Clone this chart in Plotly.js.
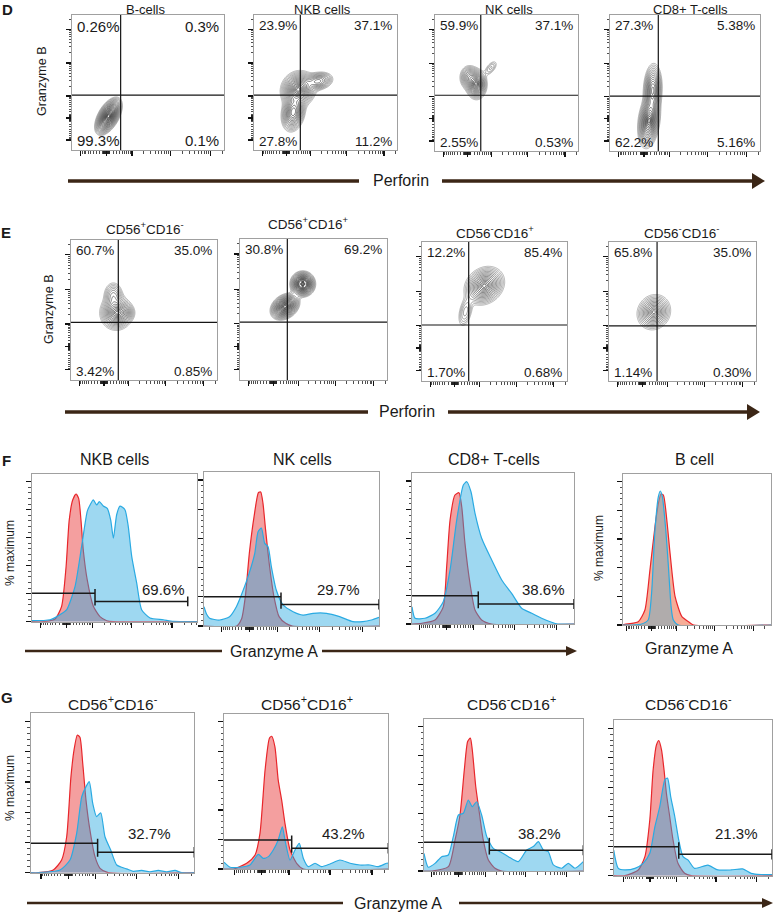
<!DOCTYPE html>
<html><head><meta charset="utf-8">
<script src="https://cdn.plot.ly/plotly-3.0.1.min.js"></script>
<style>html,body{margin:0;padding:0;background:#fff}#chart{width:774px;height:912px}</style>
</head><body><div id="chart"></div>
<script>
// ================= DATA =================
const titlesD = ['B-cells', 'NKB cells', 'NK cells', 'CD8+ T-cells'];
const titlesE = ['CD56<sup>+</sup>CD16<sup>-</sup>', 'CD56<sup>+</sup>CD16<sup>+</sup>', 'CD56<sup>-</sup>CD16<sup>+</sup>', 'CD56<sup>-</sup>CD16<sup>-</sup>'];
const titlesF = ['NKB cells', 'NK cells', 'CD8+ T-cells', 'B cell'];
const titlesG = ['CD56<sup>+</sup>CD16<sup>-</sup>', 'CD56<sup>+</sup>CD16<sup>+</sup>', 'CD56<sup>-</sup>CD16<sup>+</sup>', 'CD56<sup>-</sup>CD16<sup>-</sup>'];

// quadrant percentages [upper-left, upper-right, lower-left, lower-right]
const quadD = [['0.26%','0.3%','99.3%','0.1%'], ['23.9%','37.1%','27.8%','11.2%'], ['59.9%','37.1%','2.55%','0.53%'], ['27.3%','5.38%','62.2%','5.16%']];
const quadE = [['60.7%','35.0%','3.42%','0.85%'], ['30.8%','69.2%','',''], ['12.2%','85.4%','1.70%','0.68%'], ['65.8%','35.0%','1.14%','0.30%']];

// quadrant gates [perforin, granzyme B] in display units (0-100)
const gatesD = [[32, 40.7], [32.4, 40.7], [32, 41], [32.2, 40.4]];
const gatesE = [[32.4, 41.2], [32.2, 41], [32.2, 40.3], [32.7, 39.6]];

// cell populations: [perforin centre, granzyme B centre, spread x, spread y, tilt, weight]
const popBcellsD = [[24, 25, 3.6, 5.6, 0.55, 1]];
const popNKBD    = [[31, 45, 5, 5.5, 0.1, 1], [45, 51, 4.5, 3, 0.2, 0.5], [27.5, 28, 3.5, 6, 0.2, 0.8]];
const popNKD     = [[29, 49, 3, 4.5, 0, 1], [24, 54, 3, 4, 0, 0.45], [39, 61, 2.5, 3, 0.6, 0.13]];
const popCD8D    = [[26, 22, 3, 8, 0.25, 1], [28.5, 45, 2.6, 8, 0.1, 0.75]];
const popCD56pCD16nE = [[31, 48, 4.5, 5, 0, 1], [29, 60, 3, 4.5, 0, 0.35], [37, 48, 3, 3, 0, 0.3]];
const popCD56pCD16pE = [[30.6, 52, 4, 3.8, 0.3, 1], [42.7, 68.1, 3.4, 3.6, 0, 1.15], [42.7, 68.1, 1, 1, 0, -0.6]];
const popCD56nCD16pE = [[43, 68.5, 5.5, 5.5, 0.2, 1], [30, 50, 2.5, 5.5, 0.4, 0.2]];
const popCD56nCD16nE = [[30.5, 49.5, 4.5, 5, 0.1, 1]];

// histograms [granzyme A display units, % maximum]
const nkbRed  = [[0,0],[7,0],[14.1,1.9],[18.1,11],[20.8,39.3],[22.7,72.6],[24.8,86.9],[26.8,91.2],[28.4,88.1],[29.8,72.6],[31.2,51.2],[33.6,29.8],[37.3,11],[41.3,3.6],[45.4,0.7],[49.4,0],[100,0]];
const nkbBlue = [[0,0.7],[11.1,1.4],[17.1,5],[21.2,8.6],[26.2,25.1],[30.2,53.8],[33.6,78.8],[35.3,83.4],[37.3,87],[39.3,83.4],[40.9,85.7],[43.3,82.6],[45.7,81],[47.8,72.6],[49.4,59.6],[51.4,76.4],[53.4,82.6],[56.4,80],[58.4,68.1],[60.5,46.7],[63.5,27.7],[66.5,8.6],[71.6,2.6],[79.6,1.4],[85.7,0.2],[100,0]];
const nkRed   = [[0,0],[18.7,0],[21.5,5],[23.6,20],[25.9,49.8],[28.6,74.9],[31.1,91.3],[32.4,91.8],[33.7,84],[35.2,65.8],[37.5,40.6],[40,20],[42.9,6.4],[46.7,1.8],[50.5,0],[100,0]];
const nkBlue  = [[0,13.2],[1.5,8],[3.2,5.3],[8.9,4.1],[14.6,6.4],[18.5,13.2],[23.2,27],[26.1,37.2],[29,49.8],[30.9,64.6],[32.8,67],[34.7,56.6],[36.6,54.3],[38.5,40.6],[41.3,24.7],[45.2,14.4],[50.9,9.8],[56.6,7.5],[62.3,8.7],[70,8.7],[77.5,6.4],[85.1,3],[90.8,3],[95.6,4.1],[100,6]];
const cd8Red  = [[0,0],[6,0.5],[14.2,2.8],[19.3,12],[21.4,40],[23.5,72.7],[26.5,90.2],[29,91.8],[30.7,82],[32.7,56.4],[35.8,28.4],[38.9,9.8],[43,2.8],[49.2,0],[100,0]];
const cd8Blue = [[0,12],[1.9,4],[8,4],[14.2,7.5],[19.3,15.6],[23.5,37.8],[27.6,72.7],[31.7,97.2],[33.8,99.5],[36.4,92.5],[38.9,77.4],[43,60],[49.2,44.8],[55.4,30.8],[61.5,21.4],[67.7,11],[73.9,7.5],[80,4],[86.2,1.2],[90,0],[100,0]];
const bRed    = [[0,0],[1.2,0.5],[10.3,2.3],[14.8,10.5],[18.2,38.4],[21.6,68.6],[23.9,84.9],[25.7,91.4],[27.3,90.7],[29.6,73.3],[31.8,50],[35.2,19.8],[39.8,5.8],[44.3,2.3],[47.7,0],[100,0]];
const bBlue   = [[0,0],[12,0.5],[17,3.5],[19.3,22],[21.6,66.3],[23.9,89.5],[25.2,93.5],[26.6,89.5],[28.9,66.3],[30.7,40.7],[32.5,12.8],[34,3.5],[37.4,0],[100,0]];
const g1Red   = [[0,0],[4.7,0],[13.8,1.8],[18.9,8.4],[22,23.8],[24.6,63.6],[26.5,81.3],[28.5,91.2],[30.1,89.7],[31.8,72.5],[33.8,48.1],[36.2,28.3],[39.3,10.6],[42.4,2.9],[47.4,0],[100,0]];
const g1Blue  = [[0,0],[4.7,0],[17.9,1.8],[24,8.4],[28.1,26.1],[31.2,50.3],[33.8,57],[35.8,60.3],[37.9,46],[40.3,37.1],[42.8,39.7],[45.4,23.8],[48.9,15],[52.6,5.1],[58.7,2.5],[62.7,0.9],[67.8,1.5],[72.9,0.5],[78,1.5],[83.1,0.5],[88.2,1.5],[92.3,0],[100,0]];
const g2Red   = [[0,0],[5.7,0],[13.8,3.9],[18.9,9.5],[21.9,24.2],[25,67.2],[27.6,88.6],[29,90.1],[31,82.9],[33,60.3],[35.1,46.8],[37.1,31],[40.2,12.9],[44.2,3.9],[48.3,0],[100,0]];
const g2Blue  = [[0,4.6],[3.7,1.2],[9.7,1.2],[15.8,2.7],[20.9,9.9],[23.9,7.2],[27,8.4],[30,12.9],[33,19.7],[35.5,28.7],[37.1,19.7],[40.2,6.1],[43.2,12.9],[45.8,17.4],[48.3,7.2],[51.3,1.6],[55.4,3.9],[59.4,1.6],[64.5,3.4],[70.6,6.1],[76.7,3.9],[82.8,2.7],[88.8,2.7],[93.9,1.6],[99,3.9],[100,4]];
const g3Red   = [[0,0],[4.8,0],[15.3,3],[19.5,21.5],[22.6,38.8],[25.3,70],[27.4,89.8],[29.1,92.1],[30.3,84],[32.5,58.4],[34.5,42.3],[37.2,21.5],[40.4,7.6],[44.6,1.9],[48.8,0],[100,0]];
const g3Blue  = [[0,12.2],[2.7,2.6],[6.9,5.3],[11.1,9.9],[15.3,11.1],[18.4,23.8],[21.6,38.8],[24.7,40],[27.8,49.2],[30.3,44.6],[33.1,48],[36.2,38.8],[39.4,23.8],[43.5,15.7],[47.7,13.4],[53,9.9],[59.2,6.5],[64.5,14.6],[68.6,16.9],[71.8,20.3],[74.9,14.6],[78,13.4],[81.2,4.2],[86.4,1.9],[90.6,5.3],[94.8,1.9],[100,6.5]];
const g4Red   = [[0,0],[7.1,0],[15.5,3.9],[19.7,12.9],[22.8,37.8],[24.9,71.7],[27,88.7],[28.5,91.6],[30.2,85.3],[31.8,71.7],[33.3,55.9],[35.4,40],[37.5,24.2],[40.6,8.4],[44.8,1.6],[49,0],[100,0]];
const g4Blue  = [[0,17.4],[2.9,5],[7.1,3.9],[13.4,5],[18.6,8.4],[22.8,15.2],[26,33.2],[29.1,46.8],[32.3,65.1],[34,66.2],[36,53.7],[38.6,40],[41.1,24.2],[43.8,12.9],[46.9,10.7],[51.1,5],[59.5,7.2],[65.8,3.9],[74.2,3.9],[81.5,4.6],[86.8,1.6],[93.1,0.8],[99.4,0.8],[100,0.8]];

// histogram gates [boundary, negative-gate level, positive-gate level, positive-gate end]
const gatesF = [[38.3, 20.4, 14.5, 94.4], [44, 20, 14.8, 100], [40.9, 19.8, 14, 100], null];
const gatesG = [[40.9, 19.5, 13.5, 100], [41.2, 19.7, 14.1, 100], [41, 20, 14.4, 100], [41.1, 19.7, 14.5, 100]];
const pctF = ['69.6%', '29.7%', '38.6%', ''];
const pctG = ['32.7%', '43.2%', '38.2%', '21.3%'];
const pctFAt = [[79.6, 22.7], [76.8, 24.7], [81, 23.8], null];
const pctGAt = [[72.9, 26], [72.6, 24.2], [72.8, 26], [77.3, 28.3]];

// ================= LAYOUT CONSTANTS =================
const W = 774, H = 912;
const FONT = 'Liberation Sans, Arial, Helvetica, sans-serif';
const INK = '#1a1a1a', BROWN = '#3b2616';
const boxD = [[72,224,15,150],[254,397,15,150],[435,578,15,151],[610,760,15,151]];
const boxE = [[71,217,240,380],[240,387,239,380],[422,567,242,381],[609,756,242,381]];
const boxF = [[31.7,197,621.7,481.7],[204,379,626,480],[412,574,624,481],[623,771,625,481.7]];
const boxG = [[30.7,194.3,872.7,721.7],[224,388.3,869,721.7],[424,583.3,871,726.7],[613.7,772,875.7,728.3]];
const tickXC = [22.6, 26], tickYC = [23.7, 25];
const tickXF = [[21,24.3],[26,24.5],[21.4,25.8],[19.4,26.1]];
const tickXG = [[23,25.6],[23,25.5],[21.5,25.9],[22.9,25.6]];
const HTOP = 105.5;

const px = x => x / W, py = y => 1 - y / H;

function biexTicks(zero, scale) {
  const T = v => zero + scale * Math.asinh(v / 470) / Math.LN10;
  const majV = [-1000, 0, 1000, 10000, 100000];
  const major = majV.map(T).filter(p => p >= 0 && p <= 100);
  const minor = [];
  for (const d of [10, 100, 1000, 10000, 100000]) for (let k = 1; k <= 9; k++) for (const s of [1, -1]) {
    const v = s * k * d; if (majV.includes(v)) continue;
    const p = T(v); if (p >= 0.4 && p <= 99.6) minor.push(p);
  }
  return { major, minor };
}
const histY = { major: [0, 20, 40, 60, 80, 100], minor: [] };
for (let v = 4; v < 100; v += 4) if (v % 20) histY.minor.push(v);

function axisObj(domain, anchor, range, t) {
  return { domain, anchor, range, fixedrange: true, showgrid: false, zeroline: false,
    showline: true, mirror: true, linecolor: '#a0a0a0', linewidth: 1,
    ticks: 'outside', tickmode: 'array', tickvals: t.major, ticklen: 5, tickwidth: 1.2, tickcolor: '#111',
    showticklabels: false,
    minor: { tickmode: 'array', tickvals: t.minor, ticks: 'outside', ticklen: 2.5, tickwidth: 0.8, tickcolor: '#222', showgrid: false } };
}

const traces = [], annotations = [], shapes = [];
const layout = { width: W, height: H, margin: { l: 0, r: 0, t: 0, b: 0 }, showlegend: false,
  paper_bgcolor: '#fff', plot_bgcolor: 'rgba(0,0,0,0)', font: { family: FONT, color: INK } };

function ax(i) { return { x: 'x' + (i > 1 ? i : ''), y: 'y' + (i > 1 ? i : ''), xa: 'xaxis' + (i > 1 ? i : ''), ya: 'yaxis' + (i > 1 ? i : '') }; }

function note(x, y, text, size, extra) {
  annotations.push(Object.assign({ xref: 'paper', yref: 'paper', x: px(x), y: py(y), text, showarrow: false,
    xanchor: 'center', yanchor: 'middle', font: { family: FONT, size, color: INK } }, extra || {}));
}

// ---------- contour panels ----------
// density of the populations, expressed as an equal-spacing "radius" so rings are evenly spaced like FlowJo's
function contourPanel(i, box, pops, gate, quad, rings, labelSize) {
  const a = ax(i);
  layout[a.xa] = axisObj([px(box[0]), px(box[1])], a.y, [0, 100], biexTicks(tickXC[0], tickXC[1]));
  layout[a.ya] = axisObj([py(box[3]), py(box[2])], a.x, [0, 100], biexTicks(tickYC[0], tickYC[1]));
  const g = []; for (let k = 0; k <= 200; k++) g.push(k * 0.5);
  const dens = g.map(y => g.map(x => {
    let s = 0;
    for (const [cx, cy, sx, sy, r, w] of pops) {
      const dx = (x - cx) / sx, dy = (y - cy) / sy;
      s += w * Math.exp(-0.5 * (dx * dx - 2 * r * dx * dy + dy * dy) / (1 - r * r));
    }
    return s;
  }));
  let zmax = 0; dens.forEach(row => row.forEach(v => { if (v > zmax) zmax = v; }));
  const z = dens.map(row => row.map(v => Math.min(4, Math.sqrt(2 * Math.log(zmax / Math.max(v, 1e-12))))));
  const start = 0.22, end = 2.55;
  traces.push({ type: 'contour', x: g, y: g, z, xaxis: a.x, yaxis: a.y, showscale: false,
    autocontour: false,
    contours: { coloring: 'lines', showlabels: false, start, end, size: (end - start) / (rings - 1) },
    line: { width: 0.65, smoothing: 1 }, zmin: start, zmax: end,
    colorscale: [[0, '#151515'], [0.55, '#444'], [1, '#8c8c8c']], hoverinfo: 'skip' });
  traces.push({ type: 'scatter', mode: 'lines', xaxis: a.x, yaxis: a.y,
    x: [gate[0], gate[0], null, 0, 100], y: [0, 100, null, gate[1], gate[1]],
    line: { color: '#151515', width: 1.2 }, hoverinfo: 'skip' });
  const dx = a.x + ' domain', dy = a.y + ' domain', f = { family: FONT, size: labelSize, color: INK };
  const pos = [[0, 1, 'left', 'top'], [1, 1, 'right', 'top'], [0, 0, 'left', 'bottom'], [1, 0, 'right', 'bottom']];
  quad.forEach((t, k) => { if (!t) return;
    const [x, y, xa, ya] = pos[k];
    annotations.push({ xref: dx, yref: dy, x, y, xanchor: xa, yanchor: ya, text: t, showarrow: false, font: f,
      xshift: x ? -3 : 3, yshift: -1 });
  });
}

// ---------- histogram panels ----------
function histPanel(i, box, tk, red, blue, gate, pct, pctAt, bcell) {
  const a = ax(i);
  const top = box[2] - (HTOP / 100) * (box[2] - box[3]);
  layout[a.xa] = axisObj([px(box[0]), px(box[1])], a.y, [0, 100], biexTicks(tk[0], tk[1]));
  layout[a.ya] = axisObj([py(box[2]), py(top)], a.x, [0, HTOP], histY);
  const redFill = bcell ? '#f6ad97' : 'rgba(232,45,45,0.46)';
  const blueFill = bcell ? 'rgba(118,172,190,0.55)' : 'rgba(41,169,224,0.45)';
  const line = (c) => ({ color: c, width: 1.2, shape: 'spline', smoothing: 0.6 });
  traces.push({ type: 'scatter', mode: 'lines', xaxis: a.x, yaxis: a.y, x: red.map(p => p[0]), y: red.map(p => p[1]),
    fill: 'tozeroy', fillcolor: redFill, line: line('#e8262b'), hoverinfo: 'skip' });
  traces.push({ type: 'scatter', mode: 'lines', xaxis: a.x, yaxis: a.y, x: blue.map(p => p[0]), y: blue.map(p => p[1]),
    fill: 'tozeroy', fillcolor: blueFill, line: line('#2aaae2'), hoverinfo: 'skip' });
  if (gate) {
    const [b, ly, ry, re] = gate;
    traces.push({ type: 'scatter', mode: 'lines', xaxis: a.x, yaxis: a.y,
      x: [0, b, null, b, re, null, b, b, null, re, re],
      y: [ly, ly, null, ry, ry, null, ry - 3, ly + 3, null, ry - 3.5, ry + 3.5],
      line: { color: '#1a1a1a', width: 1.5 }, hoverinfo: 'skip' });
    annotations.push({ xref: a.x, yref: a.y, x: pctAt[0], y: pctAt[1], text: pct, showarrow: false,
      xanchor: 'center', yanchor: 'middle', font: { family: FONT, size: 15, color: INK } });
  }
}

// ---------- build ----------
const popsD = [popBcellsD, popNKBD, popNKD, popCD8D];
const popsE = [popCD56pCD16nE, popCD56pCD16pE, popCD56nCD16pE, popCD56nCD16nE];
const ringsD = [22, 17, 16, 17], ringsE = [15, 20, 15, 13];
for (let k = 0; k < 4; k++) contourPanel(1 + k, boxD[k], popsD[k], gatesD[k], quadD[k], ringsD[k], k === 0 ? 15 : 13.5);
for (let k = 0; k < 4; k++) contourPanel(5 + k, boxE[k], popsE[k], gatesE[k], quadE[k], ringsE[k], 13.5);
const histsF = [[nkbRed, nkbBlue], [nkRed, nkBlue], [cd8Red, cd8Blue], [bRed, bBlue]];
const histsG = [[g1Red, g1Blue], [g2Red, g2Blue], [g3Red, g3Blue], [g4Red, g4Blue]];
for (let k = 0; k < 4; k++) histPanel(9 + k, boxF[k], tickXF[k], histsF[k][0], histsF[k][1], gatesF[k], pctF[k], pctFAt[k], k === 3);
for (let k = 0; k < 4; k++) histPanel(13 + k, boxG[k], tickXG[k], histsG[k][0], histsG[k][1], gatesG[k], pctG[k], pctGAt[k], false);

// titles
[[145.8, 0], [322.5, 0], [509, 0], [690, 0]].forEach((p, k) => note(p[0], p[1], titlesD[k], 13, { yanchor: 'top' }));
[[145, 228.3], [308, 222.7], [494.7, 231.7], [681.7, 231.7]].forEach((p, k) => note(p[0], p[1], titlesE[k], 13.5));
[[114, 459], [302.7, 459], [494, 459], [694.3, 459]].forEach((p, k) => note(p[0], p[1], titlesF[k], 16));
[[112.7, 702.7], [307, 702.7], [511.7, 702.7], [688.7, 702.7]].forEach((p, k) => note(p[0], p[1], titlesG[k], 15.5));
// panel letters
[['D', 7.5, 10], ['E', 6, 232], ['F', 6.3, 460], ['G', 7, 697]].forEach(([t, x, y]) => note(x, y, '<b>' + t + '</b>', 15));
// axis titles
note(42, 82, 'Granzyme B', 12.5, { textangle: -90 });
note(49, 310, 'Granzyme B', 12.5, { textangle: -90 });
note(10, 553, '% maximum', 12, { textangle: -90 });
note(599, 548, '% maximum', 12, { textangle: -90 });
note(10, 788, '% maximum', 12, { textangle: -90 });
note(401, 181, 'Perforin', 16);
note(407, 412, 'Perforin', 16);
note(274, 651, 'Granzyme A', 16);
note(689, 648, 'Granzyme A', 16);
note(398, 903, 'Granzyme A', 16);

// brown axis arrows
function hline(x0, x1, y, w) { shapes.push({ type: 'line', xref: 'paper', yref: 'paper', x0: px(x0), x1: px(x1), y0: py(y), y1: py(y), line: { color: BROWN, width: w } }); }
function head(xb, xt, y, h) {
  shapes.push({ type: 'path', xref: 'paper', yref: 'paper', fillcolor: BROWN, line: { color: BROWN, width: 0 },
    path: `M ${px(xb)},${py(y - h)} L ${px(xt)},${py(y)} L ${px(xb)},${py(y + h)} Z` });
}
hline(68, 359, 181, 3.5); hline(442, 755, 181, 3.5); head(752, 765, 181, 8);
hline(65, 368, 412, 3.5); hline(448, 750, 412, 3.5); head(747, 760, 412, 8);
hline(25, 222, 651, 2.3); hline(322, 568, 651, 2.3); head(566, 577, 651, 5);
hline(27, 343, 903, 2.5); hline(459, 764, 903, 2.5); head(762, 773, 903, 5);

layout.annotations = annotations;
layout.shapes = shapes;
Plotly.newPlot('chart', traces, layout, { displayModeBar: false, staticPlot: true });
</script>
</body></html>
